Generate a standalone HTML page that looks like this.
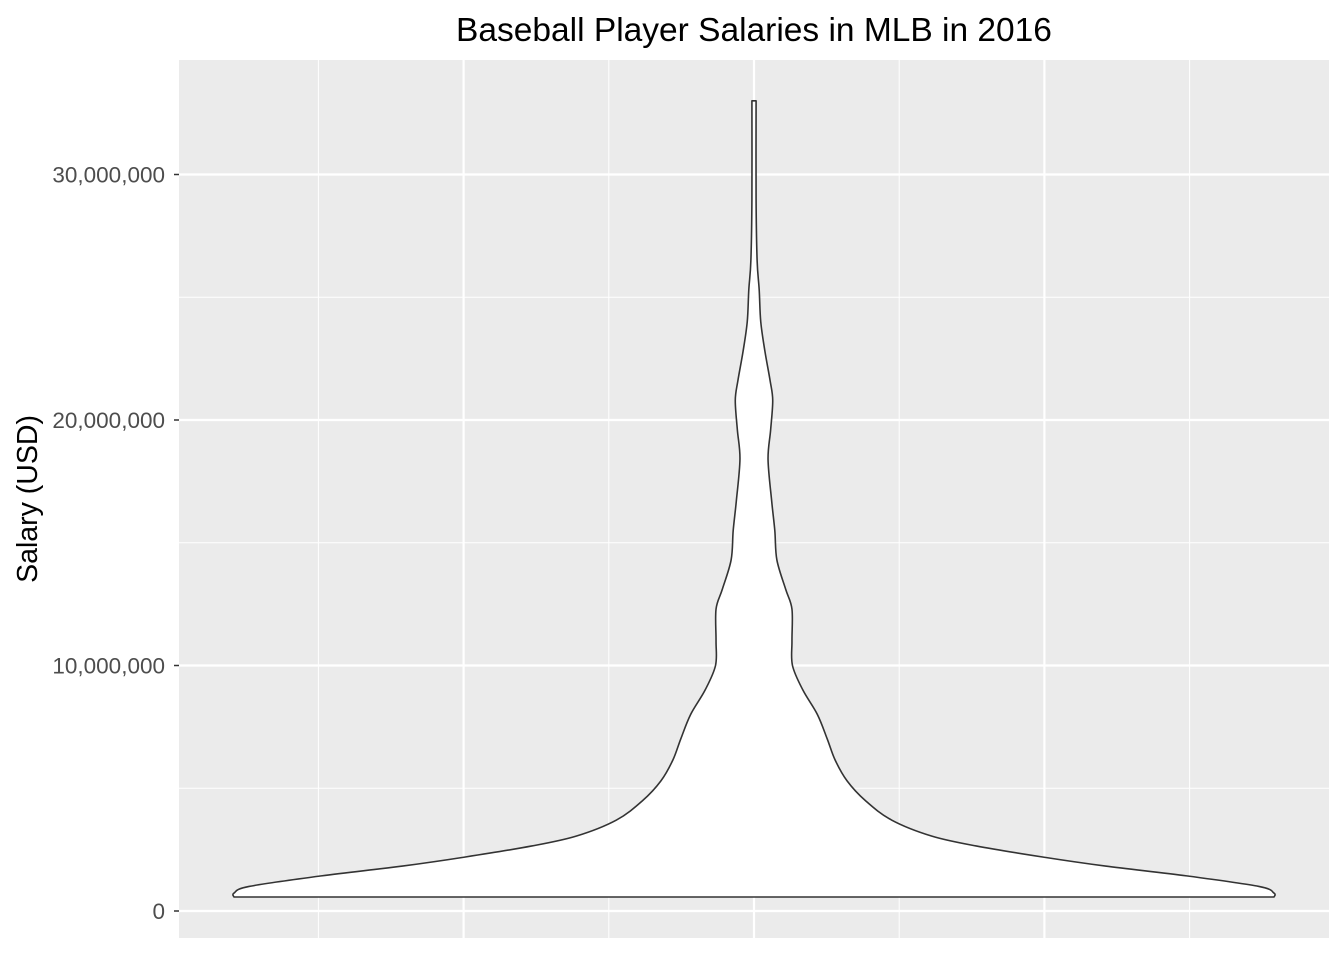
<!DOCTYPE html>
<html><head><meta charset="utf-8"><style>
body{margin:0;background:#fff}
svg{display:block;font-family:"Liberation Sans",Arial,sans-serif}
</style></head><body>
<svg id="chart" width="1344" height="960">
<rect x="179" y="60" width="1150" height="878" fill="#ebebeb"/>
<g id="grid"></g>
<g id="yaxis"></g>
<path id="violin" fill="#fff" stroke="#333" stroke-width="1.6" stroke-linejoin="round"/>
<text x="754" y="41" text-anchor="middle" font-size="33.5" fill="#000">Baseball Player Salaries in MLB in 2016</text>
<text transform="translate(37,499) rotate(-90)" text-anchor="middle" font-size="28.5" fill="#000">Salary (USD)</text>
</svg>
<script>
const yTicks=[0,10000000,20000000,30000000];
const yTickLabels=["0","10,000,000","20,000,000","30,000,000"];
const salaryM=[0.57,0.73,1.0,1.43,1.83,2.2,2.65,3.05,3.7,4.5,5.3,6.15,7.0,8.0,9.0,10.0,11.0,12.3,13.1,14.3,15.5,16.7,18.4,19.6,20.8,21.6,22.8,24.0,25.3,26.5,29.0,33.0];
const density=[1.0,1.0,0.971,0.832,0.676,0.555,0.427,0.342,0.265,0.214,0.179,0.156,0.141,0.122,0.094,0.074,0.073,0.073,0.061,0.044,0.040,0.034,0.027,0.032,0.036,0.031,0.021,0.013,0.010,0.006,0.004,0.004];
const NS="http://www.w3.org/2000/svg";
const y=v=>911-v*24.55/1e6;
const cx=754, maxHW=520;
const g=document.getElementById('grid');
function line(x1,y1,x2,y2,w,name){const l=document.createElementNS(NS,'line');
l.setAttribute('x1',x1);l.setAttribute('y1',y1);l.setAttribute('x2',x2);l.setAttribute('y2',y2);
l.setAttribute('stroke','#fff');l.setAttribute('stroke-width',w);


g.appendChild(l);}
for(let i=0;i<yTicks.length-1;i++){line(179,y((yTicks[i]+yTicks[i+1])/2),1329,y((yTicks[i]+yTicks[i+1])/2),1,'minor-gridline');}
for(let i=-3;i<=3;i++){line(cx+i*145.2,60,cx+i*145.2,938,i%2===0?2.2:1,'vertical-gridline');}
const ya=document.getElementById('yaxis');
yTicks.forEach((t,i)=>{line(179,y(t),1329,y(t),2.2,'major-gridline');
const tx=document.createElementNS(NS,'text');tx.setAttribute('x',165);tx.setAttribute('y',y(t)+8);
tx.setAttribute('text-anchor','end');tx.setAttribute('font-size','22.5');tx.setAttribute('fill','#4d4d4d');
tx.textContent=yTickLabels[i];


ya.appendChild(tx);
const tk=document.createElementNS(NS,'line');tk.setAttribute('x1',174);tk.setAttribute('x2',179);tk.setAttribute('y1',y(t));tk.setAttribute('y2',y(t));tk.setAttribute('stroke','#333');tk.setAttribute('stroke-width',1.5);


ya.appendChild(tk);});
let L=[],R=[];
salaryM.forEach((s,i)=>{const hw=density[i]*maxHW;L.push([cx-hw,y(s*1e6)]);R.push([cx+hw,y(s*1e6)]);});
function smooth(pts){let d='';for(let i=0;i<pts.length-1;i++){const p0=pts[Math.max(i-1,0)],p1=pts[i],p2=pts[i+1],p3=pts[Math.min(i+2,pts.length-1)];
const c1=[p1[0]+(p2[0]-p0[0])/6,p1[1]+(p2[1]-p0[1])/6],c2=[p2[0]-(p3[0]-p1[0])/6,p2[1]-(p3[1]-p1[1])/6];
d+=' C'+c1.join(',')+' '+c2.join(',')+' '+p2.join(',');}return d;}
const Rr=R.slice().reverse();
let d='M'+L[0].join(',')+smooth(L)+' L'+Rr[0].join(',')+smooth(Rr)+' Z';
document.getElementById('violin').setAttribute('d',d);
</script>
</body></html>
